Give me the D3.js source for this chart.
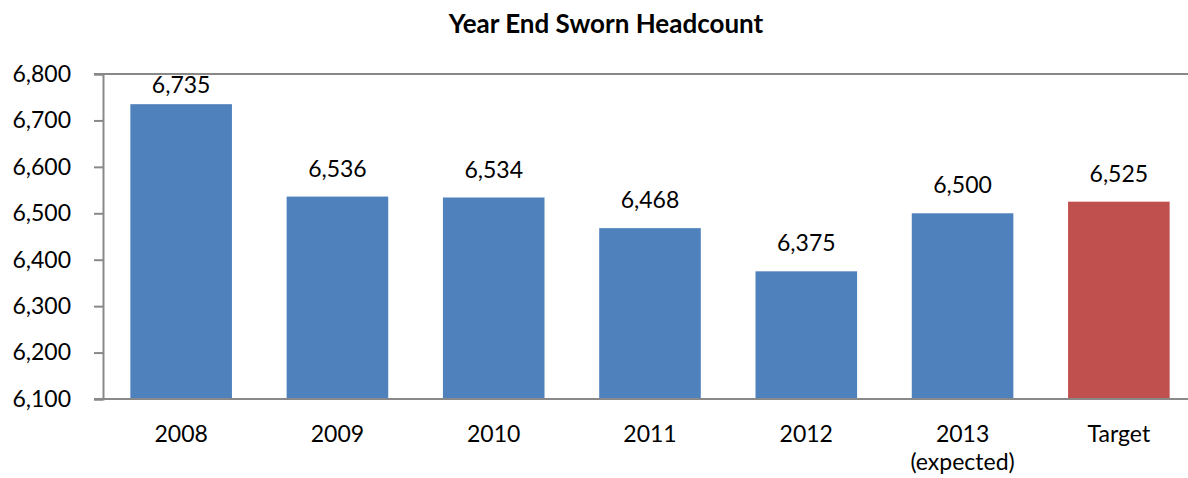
<!DOCTYPE html>
<html>
<head>
<meta charset="utf-8">
<script src="https://cdn.jsdelivr.net/npm/d3@7"></script>
<style>
  html, body { margin: 0; padding: 0; background: #fff; }
  svg { display: block; }
  text { font-family: Lato, "Open Sans", "DejaVu Sans", sans-serif; fill: #000; }
</style>
</head>
<body>
<svg id="chart" width="1188" height="478"></svg>
<script>
// Year-end sworn headcount, one bar per year plus the target
const categories = ["2008", "2009", "2010", "2011", "2012", "2013\n(expected)", "Target"];
const headcount  = [6735, 6536, 6534, 6468, 6375, 6500, 6525];
const barColors  = ["#4F81BD", "#4F81BD", "#4F81BD", "#4F81BD", "#4F81BD", "#4F81BD", "#C0504D"];
const yTicks     = [6100, 6200, 6300, 6400, 6500, 6600, 6700, 6800];
const title      = "Year End Sworn Headcount";

const svg = d3.select("#chart");
const W = 1188, H = 478;
const plot = { left: 103, right: 1197, top: 74, bottom: 399 };
const labelSize = "23px";

const x = d3.scaleBand()
  .domain(categories)
  .range([plot.left, plot.right])
  .paddingInner(0.35)
  .paddingOuter(0.175);

const y = d3.scaleLinear()
  .domain([6100, 6800])
  .range([plot.bottom, plot.top]);

const fmt = d3.format(",");
const axisColor = "#898989";

// Title
svg.append("text")
  .attr("x", 606)
  .attr("y", 33)
  .attr("text-anchor", "middle")
  .style("font-size", "26px")
  .style("font-weight", "bold")
  .text(title);

// Bars
svg.append("g")
  .selectAll("rect")
  .data(headcount)
  .join("rect")
  .attr("x", (d, i) => x(categories[i]))
  .attr("width", x.bandwidth())
  .attr("y", d => y(d))
  .attr("height", d => y(6100) - y(d))
  .attr("fill", (d, i) => barColors[i]);

// Top border line (at the axis maximum)
svg.append("line")
  .attr("x1", plot.left - 9).attr("x2", W)
  .attr("y1", y(6800)).attr("y2", y(6800))
  .attr("stroke", axisColor).attr("stroke-width", 2);

// Y axis
const yAxis = d3.axisLeft(y)
  .tickValues(yTicks)
  .tickFormat(fmt)
  .tickSize(9)
  .tickPadding(23);

const gy = svg.append("g")
  .attr("transform", `translate(${plot.left},0)`)
  .call(yAxis);
gy.select(".domain").attr("stroke", axisColor).attr("stroke-width", 2);
gy.selectAll(".tick line").attr("stroke", axisColor).attr("stroke-width", 2);
gy.selectAll(".tick text")
  .attr("fill", "#000")
  .style("font-size", labelSize)
  .style("font-family", "Lato, 'Open Sans', sans-serif");

// X axis baseline
svg.append("line")
  .attr("x1", plot.left - 9).attr("x2", W)
  .attr("y1", y(6100)).attr("y2", y(6100))
  .attr("stroke", axisColor).attr("stroke-width", 2);

// Category labels (multi-line where needed)
const xl = svg.append("g")
  .selectAll("text")
  .data(categories)
  .join("text")
  .attr("text-anchor", "middle")
  .attr("x", d => x(d) + x.bandwidth() / 2)
  .attr("y", plot.bottom + 43)
  .style("font-size", labelSize);
xl.each(function(d) {
  const t = d3.select(this);
  d.split("\n").forEach((line, k) => {
    t.append("tspan")
      .attr("x", x(d) + x.bandwidth() / 2)
      .attr("dy", k === 0 ? 0 : 28)
      .text(line);
  });
});

// Value labels above the bars, kept inside the plot area
svg.append("g")
  .selectAll("text")
  .data(headcount)
  .join("text")
  .attr("text-anchor", "middle")
  .attr("x", (d, i) => x(categories[i]) + x.bandwidth() / 2)
  .attr("y", d => Math.max(y(d) - 20, plot.top + 19))
  .style("font-size", labelSize)
  .text(d => fmt(d));
</script>
</body>
</html>
